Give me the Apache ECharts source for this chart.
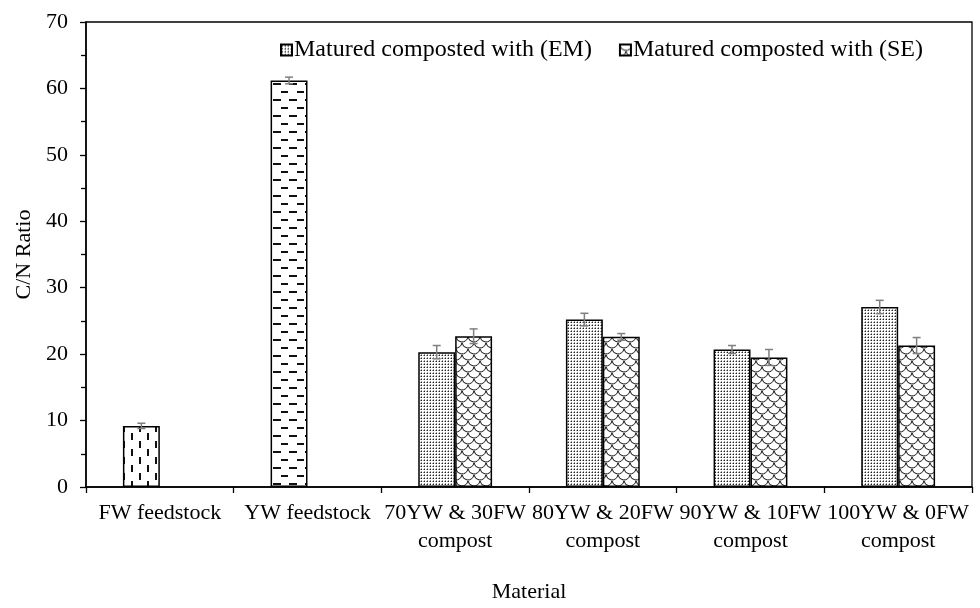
<!DOCTYPE html>
<html>
<head>
<meta charset="utf-8">
<script src="https://cdn.jsdelivr.net/npm/echarts@6/dist/echarts.min.js"></script>
<style>html,body{margin:0;padding:0;background:#fff}#c{width:980px;height:608px}</style>
</head>
<body>
<div id="c"></div>
<script>
const categories = ['FW feedstock', 'YW feedstock', '70YW & 30FW\ncompost', '80YW & 20FW\ncompost', '90YW & 10FW\ncompost', '100YW & 0FW\ncompost'];
const emValues = [9.2, 61.2, 20.3, 25.2, 20.7, 27.1];
const emErrors = [0.4, 0.5, 1.0, 0.95, 0.6, 1.0];
const seValues = [null, null, 22.7, 22.6, 19.5, 21.3];
const seErrors = [null, null, 1.1, 0.5, 1.2, 1.2];
const seriesNames = ['Matured composted with (EM)', 'Matured composted with (SE)'];
const yTicks = {min: 0, max: 70, interval: 10};

const FONT = '"Liberation Serif", "Times New Roman", serif';

function makeTile(w, h, draw) {
  const c = document.createElement('canvas');
  c.width = w; c.height = h;
  const ctx = c.getContext('2d');
  ctx.fillStyle = '#fff'; ctx.fillRect(0, 0, w, h);
  draw(ctx);
  return {image: c, repeat: 'repeat'};
}
// vertical dashes (FW)
const fwPattern = makeTile(16, 16, ctx => {
  ctx.fillStyle = '#111';
  ctx.fillRect(3, 1, 2, 7);
  ctx.fillRect(11, 9, 2, 7);
});
// horizontal dashes (YW)
const ywPattern = makeTile(16, 16, ctx => {
  ctx.fillStyle = '#111';
  ctx.fillRect(1, 3, 8, 2);
  ctx.fillRect(9, 11, 8, 2);
});
// dotted (EM)
const emPattern = makeTile(3, 3, ctx => {
  ctx.fillStyle = '#222';
  ctx.fillRect(1, 1, 1, 1);
  ctx.fillStyle = '#9a9a9a';
  ctx.fillRect(0, 1, 1, 1);
  ctx.fillRect(1, 0, 1, 1);
});
// wave / scales (SE)
const sePattern = makeTile(12, 12, ctx => {
  ctx.strokeStyle = '#111';
  ctx.lineWidth = 1;
  const centers = [[6, 0], [0, 6], [12, 6], [6, 12], [0, -6], [12, -6]];
  centers.forEach(([cx, cy]) => {
    ctx.beginPath(); ctx.arc(cx, cy, 6, 0.15, Math.PI - 0.15); ctx.stroke();
  });
});

const emData = emValues.map((v, i) => {
  if (i === 0) return {value: v, itemStyle: {color: fwPattern}};
  if (i === 1) return {value: v, itemStyle: {color: ywPattern}};
  return v;
});
const seData = seValues.map(v => v === null ? '-' : v);

function errData(vals, errs) {
  const out = [];
  vals.forEach((v, i) => { if (v !== null) out.push([i, v, errs[i]]); });
  return out;
}
function errRenderer(sign) {
  return function (params, api) {
    const i = api.value(0), v = api.value(1), e = api.value(2);
    const cw = api.size([1, 0])[0];
    const dx = sign * cw * 0.125;
    const top = api.coord([i, v + e]);
    const bot = api.coord([i, v - e]);
    const x = top[0] + dx;
    const cap = 4;
    const st = {stroke: '#7f7f7f', lineWidth: 1.5};
    return {type: 'group', children: [
      {type: 'line', shape: {x1: x, y1: top[1], x2: x, y2: bot[1]}, style: st},
      {type: 'line', shape: {x1: x - cap, y1: top[1], x2: x + cap, y2: top[1]}, style: st},
      {type: 'line', shape: {x1: x - cap, y1: bot[1], x2: x + cap, y2: bot[1]}, style: st}
    ]};
  };
}

const chart = echarts.init(document.getElementById('c'), null, {renderer: 'canvas'});
chart.setOption({
  animation: false,
  backgroundColor: '#fff',
  textStyle: {fontFamily: FONT, color: '#000'},
  grid: {left: 86, right: 8, top: 22, bottom: 113, show: true, borderColor: '#000', borderWidth: 1.3, backgroundColor: 'transparent'},
  legend: {
    left: 275, top: 33, icon: 'rect', itemWidth: 11, itemHeight: 11, itemGap: 27,
    data: seriesNames,
    textStyle: {fontFamily: FONT, fontSize: 24, color: '#000', padding: [0, 0, 0, -3]}
  },
  xAxis: {
    type: 'category', data: categories,
    axisLine: {lineStyle: {color: '#000', width: 1.5}},
    axisTick: {show: true, length: 6, interval: 0, lineStyle: {color: '#000', width: 1.3}},
    axisLabel: {interval: 0, margin: 12, fontSize: 22, lineHeight: 28, color: '#000', fontFamily: FONT},
    name: 'Material', nameLocation: 'middle', nameGap: 94,
    nameTextStyle: {fontSize: 22, color: '#000', fontFamily: FONT}
  },
  yAxis: {
    type: 'value', min: yTicks.min, max: yTicks.max, interval: yTicks.interval,
    splitLine: {show: false},
    axisLine: {show: true, lineStyle: {color: '#000', width: 1.5}},
    axisTick: {show: true, length: 6, lineStyle: {color: '#000', width: 1.3}},
    minorTick: {show: true, splitNumber: 2, length: 5, lineStyle: {color: '#000', width: 1.3}},
    axisLabel: {margin: 18, fontSize: 22, color: '#000', fontFamily: FONT},
    name: 'C/N Ratio', nameLocation: 'middle', nameGap: 46,
    nameTextStyle: {fontSize: 22, color: '#000', fontFamily: FONT}
  },
  series: [
    {name: seriesNames[0], type: 'bar', data: emData, barWidth: '25%', barGap: '0%',
     itemStyle: {color: emPattern, borderColor: '#000', borderWidth: 1.5}},
    {name: seriesNames[1], type: 'bar', data: seData, barWidth: '25%', barGap: '0%',
     itemStyle: {color: sePattern, borderColor: '#000', borderWidth: 1.5}},
    {type: 'custom', renderItem: errRenderer(-1), data: errData(emValues, emErrors), z: 10, silent: true},
    {type: 'custom', renderItem: errRenderer(1), data: errData(seValues, seErrors), z: 10, silent: true}
  ]
});
</script>
</body>
</html>
